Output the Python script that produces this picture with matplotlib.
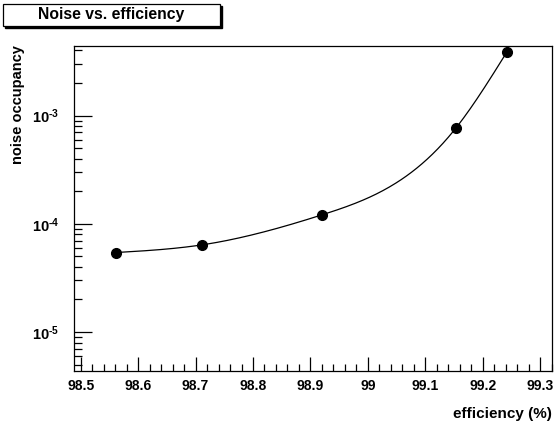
import numpy as np
import matplotlib.pyplot as plt
from matplotlib.patches import Rectangle
from matplotlib.ticker import MultipleLocator, LogLocator, FuncFormatter

plt.rcParams['font.family'] = ['Liberation Sans', 'DejaVu Sans']
plt.rcParams['mathtext.fontset'] = 'custom'
plt.rcParams['mathtext.bf'] = 'Liberation Sans:bold'
plt.rcParams['mathtext.rm'] = 'Liberation Sans:bold'

# measured points
efficiency = [98.562, 98.712, 98.920, 99.153, 99.242]
occupancy = [5.43e-5, 6.4e-5, 1.21e-4, 7.65e-4, 3.87e-3]


def natural_spline(x, y, xs):
    # natural cubic spline through (x, y), evaluated at xs
    x = np.asarray(x, float)
    y = np.asarray(y, float)
    n = len(x)
    h = np.diff(x)
    A = np.zeros((n, n))
    b = np.zeros(n)
    A[0, 0] = A[-1, -1] = 1
    for i in range(1, n - 1):
        A[i, i - 1] = h[i - 1]
        A[i, i] = 2 * (h[i - 1] + h[i])
        A[i, i + 1] = h[i]
        b[i] = 6 * ((y[i + 1] - y[i]) / h[i] - (y[i] - y[i - 1]) / h[i - 1])
    m = np.linalg.solve(A, b)
    out = np.empty_like(xs)
    for j, t in enumerate(xs):
        i = min(max(np.searchsorted(x, t) - 1, 0), n - 2)
        a = x[i + 1] - t
        c = t - x[i]
        out[j] = (m[i] * a**3 + m[i + 1] * c**3) / (6 * h[i]) \
            + (y[i] / h[i] - m[i] * h[i] / 6) * a \
            + (y[i + 1] / h[i] - m[i + 1] * h[i] / 6) * c
    return out


fig = plt.figure(figsize=(5.54, 4.23), dpi=100)
ax = fig.add_axes([73.5 / 554, 1 - 371 / 423, (551.7 - 73.5) / 554, (371 - 45.7) / 423])

xs = np.linspace(efficiency[0], efficiency[-1], 300)
ys = 10 ** natural_spline(efficiency, np.log10(occupancy), xs)
ax.plot(xs, ys, color='black', lw=0.9)
ax.plot(efficiency, occupancy, 'o', color='black', ms=7, mec='black')

ax.set_yscale('log')
ax.set_xlim(98.4875, 99.320)
ax.set_ylim(10 ** -5.36, 10 ** -2.354)

ax.xaxis.set_major_locator(MultipleLocator(0.1))
ax.xaxis.set_minor_locator(MultipleLocator(0.02))
ax.xaxis.set_major_formatter(FuncFormatter(lambda v, p: f'{v:g}'))
ax.yaxis.set_major_locator(LogLocator(base=10))
ax.yaxis.set_minor_locator(LogLocator(base=10, subs=np.arange(2, 10)))
ax.yaxis.set_major_formatter(FuncFormatter(lambda v, p: r'$\mathbf{10^{\text{-}%d}}$' % -round(np.log10(v))))

ax.tick_params(which='both', direction='in', top=False, right=False, width=0.9)
ax.tick_params(axis='x', which='major', length=10, pad=6, labelsize=10)
ax.tick_params(axis='x', which='minor', length=5)
ax.tick_params(axis='y', which='major', length=13, pad=10, labelsize=10.5)
ax.tick_params(axis='y', which='minor', length=6)
for lab in ax.get_xticklabels():
    lab.set_fontweight('bold')
for s in ax.spines.values():
    s.set_linewidth(0.9)

ax.set_xlabel('efficiency (%)', fontsize=11, fontweight='bold', loc='right', labelpad=10)
fig.text(18 / 554, 1 - 45 / 423, 'noise occupancy', rotation=90, ha='center', va='top',
         fontsize=10.5, fontweight='bold')

# title box with shadow
fig.patches.append(Rectangle((5 / 554, 1 - 28 / 423), 217 / 554, 22 / 423,
                             transform=fig.transFigure, facecolor='black', edgecolor='black'))
fig.patches.append(Rectangle((3 / 554, 1 - 26 / 423), 217 / 554, 22 / 423,
                             transform=fig.transFigure, facecolor='white', edgecolor='black', lw=0.9))
fig.text(111 / 554, 1 - 15 / 423, 'Noise vs. efficiency', ha='center', va='center',
         fontsize=11.3, fontweight='bold')

fig.savefig('out.png', dpi=100)
